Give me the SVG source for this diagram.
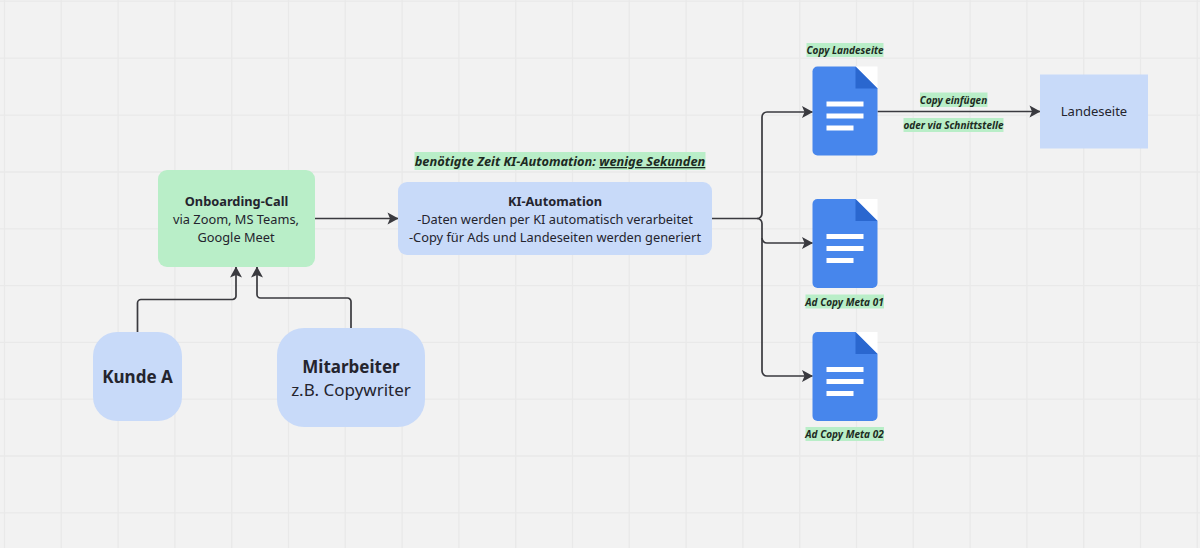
<svg xmlns="http://www.w3.org/2000/svg" width="1200" height="548" viewBox="0 0 1200 548">
<defs>
<style>
text{font-family:"Noto Sans","Open Sans",sans-serif;fill:#24242e;text-anchor:middle}
.grid path{stroke:#e9e9e9;stroke-width:1.3;fill:none}
.conn path.l{fill:none;stroke:#3a3a3f;stroke-width:1.7}
.blue{fill:#c8daf9}
.green{fill:#b9eec8}
.b{font-weight:700}
.note{font-weight:700;font-style:italic;font-size:10px;fill:#1d2a22}
.t13{font-size:12.800px}
</style>
<marker id="arr" viewBox="0 0 12 13" refX="11" refY="6.500" markerWidth="12" markerHeight="13" markerUnits="userSpaceOnUse" orient="auto"><path d="M0.500 0.500 L11.500 6.500 L0.500 12.500 L3 6.500 Z" fill="#3a3a3f"/></marker>
<g id="doc">
<path d="M41 0H65V22L41 0Z" fill="#fff"/>
<path d="M5 0H43L65 22V84a5 5 0 0 1-5 5H5a5 5 0 0 1-5-5V5a5 5 0 0 1 5-5Z" fill="#4786ec"/>
<path d="M43 0L65 22H43Z" fill="#2a67cf"/>
<rect x="14" y="35" width="37" height="5" fill="#fff"/>
<rect x="14" y="47" width="37" height="5" fill="#fff"/>
<rect x="14" y="59" width="27" height="5" fill="#fff"/>
</g>
</defs>
<rect width="1200" height="548" fill="#f2f2f2"/>
<g class="grid">
<path d="M4.500 0V548M61.300 0V548M118.100 0V548M174.900 0V548M231.700 0V548M288.500 0V548M345.300 0V548M402.100 0V548M458.900 0V548M515.700 0V548M572.500 0V548M629.300 0V548M686.100 0V548M742.900 0V548M799.700 0V548M856.500 0V548M913.300 0V548M970.100 0V548M1026.900 0V548M1083.700 0V548M1140.500 0V548M1197.300 0V548"/>
<path d="M0 1.200H1200M0 58.200H1200M0 115.200H1200M0 172H1200M0 228.800H1200M0 285.600H1200M0 342.400H1200M0 399.200H1200M0 456H1200M0 512.800H1200"/>
</g>
<g class="conn" id="connectors">
<path class="l" marker-end="url(#arr)" d="M137.500 332V303a3.500 3.500 0 0 1 3.500-3.500H232.500a3.500 3.500 0 0 0 3.500-3.500V267"/>
<path class="l" marker-end="url(#arr)" d="M351 328V301.500a3.500 3.500 0 0 0-3.500-3.500H260.500a3.500 3.500 0 0 1-3.500-3.500V267"/>
<path class="l" marker-end="url(#arr)" d="M315 218.500H398"/>
<path class="l" marker-end="url(#arr)" d="M712 218.500H757a5 5 0 0 0 5-5V117a5 5 0 0 1 5-5H812.500"/>
<path class="l" marker-end="url(#arr)" d="M757 218.500a5 5 0 0 1 5 5V238a5 5 0 0 0 5 5H812.500"/>
<path class="l" marker-end="url(#arr)" d="M762 238V371a5 5 0 0 0 5 5H812.500"/>
<path class="l" marker-end="url(#arr)" d="M877.500 111.500H1040"/>
</g>
<g id="onboarding">
<rect class="green" x="158" y="170" width="157" height="97" rx="9"/>
<text class="b t13" x="236.500" y="205.500">Onboarding-Call</text>
<text class="t13" x="236" y="223.500">via Zoom, MS Teams,</text>
<text class="t13" x="236" y="241.500">Google Meet</text>
</g>
<g id="kunde">
<rect class="blue" x="93" y="332" width="89" height="89" rx="24"/>
<text class="b" x="137.500" y="383" font-size="17">Kunde A</text>
</g>
<g id="mitarbeiter">
<rect class="blue" x="277" y="328" width="148" height="99" rx="27"/>
<text class="b" x="351" y="372.500" font-size="17">Mitarbeiter</text>
<text x="351" y="396" font-size="17">z.B. Copywriter</text>
</g>
<g id="ki">
<rect class="green" x="414.500" y="152" width="291" height="18"/>
<text x="560" y="166" class="note" style="font-size:12.800px">benötigte Zeit KI-Automation: <tspan text-decoration="underline">wenige Sekunden</tspan></text>
<rect class="blue" x="398" y="182" width="314" height="73" rx="9"/>
<text class="b t13" x="555" y="205.500">KI-Automation</text>
<text class="t13" x="555" y="223.500">-Daten werden per KI automatisch verarbeitet</text>
<text class="t13" x="555" y="241.500">-Copy für Ads und Landeseiten werden generiert</text>
</g>
<g id="doc-landeseite">
<rect class="green" x="806.500" y="43" width="77" height="14"/>
<text class="note" x="845" y="54">Copy Landeseite</text>
<use href="#doc" x="812.500" y="66.500"/>
</g>
<g id="doc-meta-01">
<use href="#doc" x="812.500" y="199"/>
<rect class="green" x="805.500" y="294.500" width="78.500" height="14"/>
<text class="note" x="844.500" y="305.500">Ad Copy Meta 01</text>
</g>
<g id="doc-meta-02">
<use href="#doc" x="812.500" y="332"/>
<rect class="green" x="805.500" y="427" width="78.500" height="14"/>
<text class="note" x="844.500" y="438">Ad Copy Meta 02</text>
</g>
<g id="edge-labels">
<rect class="green" x="920" y="92.500" width="67.500" height="14.500"/>
<text class="note" x="953.500" y="103.500">Copy einfügen</text>
<rect class="green" x="903.500" y="118" width="100" height="14"/>
<text class="note" x="953.500" y="129">oder via Schnittstelle</text>
</g>
<g id="landeseite">
<rect class="blue" x="1040" y="74.500" width="108" height="74"/>
<text style="font-size:13px" x="1094" y="116">Landeseite</text>
</g>
</svg>
